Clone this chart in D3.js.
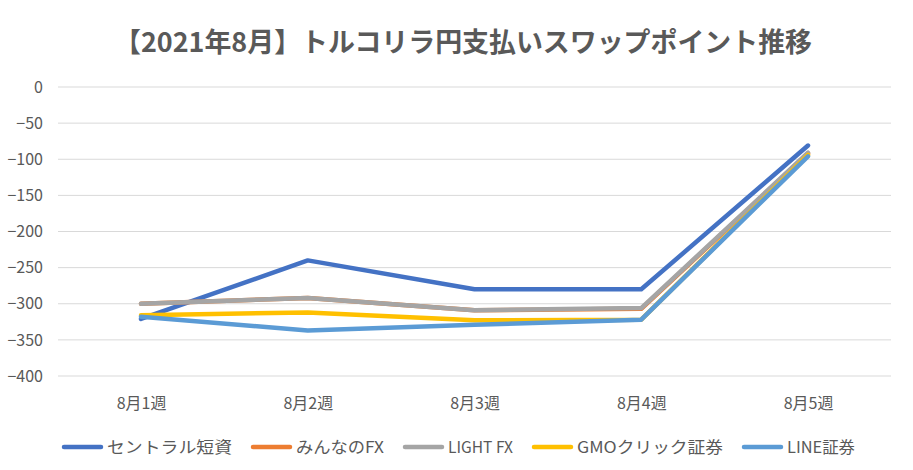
<!DOCTYPE html>
<html><head><meta charset="utf-8">
<script src="https://cdn.jsdelivr.net/npm/d3@7"></script>
<style>body{margin:0;background:#fff;}svg{display:block;}</style>
</head><body>
<script>
const categories = ["8月1週","8月2週","8月3週","8月4週","8月5週"];
const seriesNames = ["セントラル短資","みんなのFX","LIGHT FX","GMOクリック証券","LINE証券"];
const central = [-321,-240,-280,-280,-81];
const minna = [-300,-292,-309,-307,-92];
const lightfx = [-300,-292,-309,-306,-91];
const gmo = [-316,-312,-323,-322,-94];
const line = [-318,-337,-329,-322,-96];
const yTicks = [0,-50,-100,-150,-200,-250,-300,-350,-400];
const colors = ["#4472C4","#ED7D31","#A5A5A5","#FFC000","#5B9BD5"];
const title = "【2021年8月】トルコリラ円支払いスワップポイント推移";
// legend label widths (layout)
const legendWidths = [125,88,65,146,68];

const W=913,H=470;
const font = "'Noto Sans CJK JP','Noto Sans',sans-serif";
const svg = d3.select("body").append("svg").attr("width",W).attr("height",H);
svg.append("rect").attr("width",W).attr("height",H).attr("fill","#fff");

const x = d3.scalePoint().domain(categories).range([141,808]);
const y = d3.scaleLinear().domain([-400,0]).range([376,87]);

// gridlines
svg.append("g").selectAll("line").data(yTicks).join("line")
  .attr("x1",58).attr("x2",891).attr("y1",d=>y(d)).attr("y2",d=>y(d))
  .attr("stroke","#D9D9D9").attr("stroke-width",1);

// y axis labels
const yAxis = d3.axisLeft(y).tickValues(yTicks).tickSize(0).tickPadding(0);
const gy = svg.append("g").attr("transform","translate(43,0)").call(yAxis);
gy.select(".domain").remove();
gy.selectAll("text").attr("font-family",font).attr("font-size",16).attr("fill","#595959");

// x axis labels
const xAxis = d3.axisBottom(x).tickSize(0).tickPadding(0);
const gx = svg.append("g").attr("transform","translate(0,398)").call(xAxis);
gx.select(".domain").remove();
gx.selectAll("text").attr("font-family",font).attr("font-size",16).attr("fill","#595959");

// lines
const data = [central,minna,lightfx,gmo,line];
const lg = d3.line().x((d,i)=>x(categories[i])).y(d=>y(d));
svg.append("g").selectAll("path").data(data).join("path")
  .attr("d",lg).attr("fill","none").attr("stroke",(d,i)=>colors[i])
  .attr("stroke-width",4.5).attr("stroke-linejoin","round").attr("stroke-linecap","round");

// title
svg.append("text").attr("x",463).attr("y",52).attr("text-anchor","middle")
  .attr("font-family",font).attr("font-size",27).attr("font-weight","bold")
  .attr("fill","#595959").attr("textLength",698).attr("lengthAdjust","spacingAndGlyphs").text(title);

// legend
const leg = svg.append("g");
let lx = 62;
const ly = 447;
seriesNames.forEach((n,i)=>{
  leg.append("line").attr("x1",lx+2).attr("x2",lx+39).attr("y1",ly).attr("y2",ly)
    .attr("stroke",colors[i]).attr("stroke-width",4.5).attr("stroke-linecap","round");
  leg.append("text").attr("x",lx+45).attr("y",ly+6).attr("font-family",font)
    .attr("font-size",16).attr("fill","#595959")
    .attr("textLength",legendWidths[i]).attr("lengthAdjust","spacingAndGlyphs").text(n);
  lx += 45 + legendWidths[i] + 19;
});
</script>
</body></html>
